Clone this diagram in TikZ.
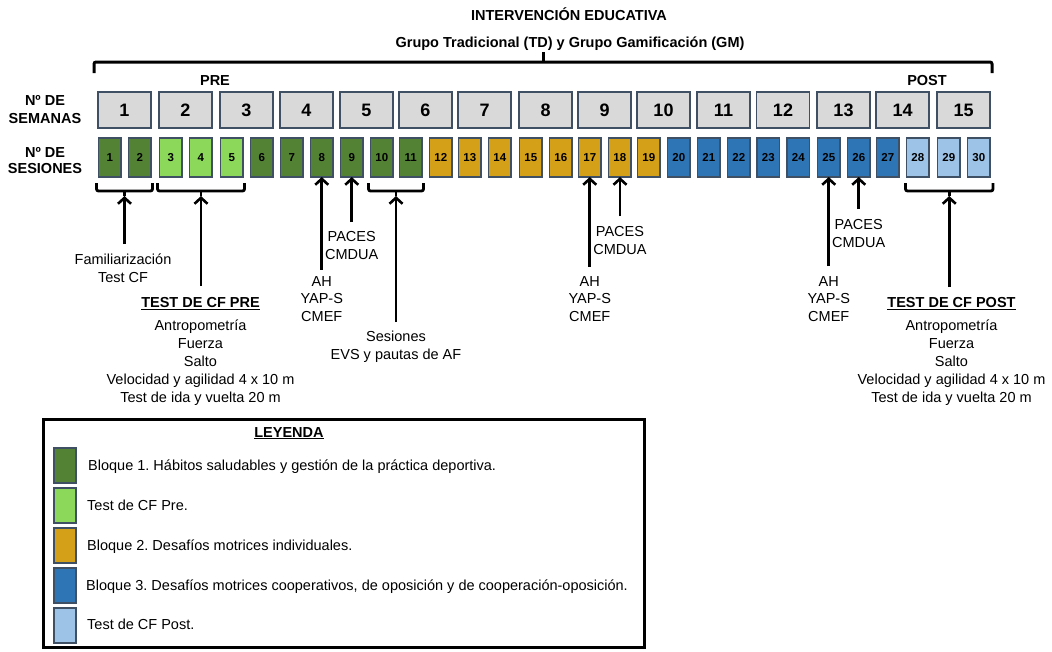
\documentclass[tikz,border=0pt]{standalone}
\usepackage{fontspec}
\setmainfont{Liberation Sans}
\usetikzlibrary{arrows.meta,calc}
\definecolor{bgreen}{RGB}{84,130,53}
\definecolor{lgreen}{RGB}{140,216,90}
\definecolor{gold}{RGB}{212,160,23}
\definecolor{bblue}{RGB}{46,117,182}
\definecolor{lblue}{RGB}{157,195,230}
\definecolor{wkgray}{RGB}{217,217,217}
\definecolor{edge}{RGB}{64,80,100}
\newcommand\myfs{\fontsize{14.5}{18}\selectfont}
\frenchspacing
\tikzset{
  week/.style={draw=edge, line width=1.3pt, fill=wkgray, minimum width=53pt, minimum height=36pt, inner sep=0pt, outer sep=0pt, font=\bfseries\fontsize{18}{20}\selectfont},
  sess/.style={draw=edge, line width=1.3pt, minimum width=22.5pt, minimum height=39pt, inner sep=0pt, outer sep=0pt, font=\bfseries\fontsize{11.5}{12}\selectfont},
  lab/.style={align=center, inner sep=0pt, font=\myfs, anchor=north},
  btitle/.style={inner sep=0pt, font=\bfseries\myfs, anchor=base},
  arr/.style={line width=2.6pt, -{Straight Barb[length=6pt,width=13pt]}},
  brk/.style={line width=2.8pt, rounded corners=2pt},
  brace/.style={line width=3pt, rounded corners=2pt},
  swatch/.style={draw=edge, line width=1.3pt, minimum width=22pt, minimum height=35pt, inner sep=0pt},
  legtext/.style={anchor=base west, inner sep=0pt, font=\myfs}
}
\begin{document}
\begin{tikzpicture}[x=1pt,y=-1pt]
\useasboundingbox (0,0) rectangle (1052,651);
\fill[white] (0,0) rectangle (1052,651);
% titles
\node[btitle] (tit) at (569,20.2) {INTERVENCIÓN EDUCATIVA};
\node[btitle] (sub) at (570,47.2) {Grupo Tradicional (TD) y Grupo Gamificación (GM)};
% brace
\draw[brace] (94,73) -- (94,62) -- (992,62) -- (992,73);
\draw[brace] (543.5,62) -- (543.5,52);
\node[btitle] (pre) at (215,85.2) {PRE};
\node[btitle] (post) at (927,85.2) {POST};
% left labels
\node[lab, font=\bfseries\fontsize{14.5}{18}\selectfont] (lsem) at (45,94.8) {Nº DE\\SEMANAS};
\node[lab, font=\bfseries\fontsize{14.5}{16}\selectfont] (lses) at (45,146.8) {Nº DE\\SESIONES};
% weeks
\foreach \L [count=\i] in {98,159,220,280,340,399,458,519,578,637,697,756.5,817,876,937} {
  \node[week] (w\i) at (\L+26.5,110) {\i};
}
% sessions
\foreach \k/\col in {1/bgreen,2/bgreen,3/lgreen,4/lgreen,5/lgreen,6/bgreen,7/bgreen,8/bgreen,9/bgreen,10/bgreen,11/bgreen,12/gold,13/gold,14/gold,15/gold,16/gold,17/gold,18/gold,19/gold,20/bblue,21/bblue,22/bblue,23/bblue,24/bblue,25/bblue,26/bblue,27/bblue,28/lblue,29/lblue,30/lblue} {
  \pgfmathtruncatemacro\wk{(\k+1)/2}
  \pgfmathtruncatemacro\isodd{mod(\k,2)}
  \ifnum\isodd=1 \def\sdx{11.75}\else\def\sdx{41.75}\fi
  \node[sess, fill=\col] (s\k) at ($(w\wk.west)+(\sdx,47.5)$) {\k};
}
% brackets
\draw[brk] ($(s1.south west)+(-2,6)$) -- ($(s1.south west)+(-2,14)$) -- ($(s2.south east)+(1.5,14)$) -- ($(s2.south east)+(1.5,6)$);
\draw[brk] ($(s1.south west)!0.5!(s2.south east)+(-0.25,14)$) -- ++(0,5) coordinate (b1);
\draw[brk] ($(s3.south west)+(-2,6)$) -- ($(s3.south west)+(-2,14)$) -- ($(s5.south east)+(1.5,14)$) -- ($(s5.south east)+(1.5,6)$);
\draw[brk] ($(s3.south west)!0.5!(s5.south east)+(-0.25,14)$) -- ++(0,5) coordinate (b2);
\draw[brk] ($(s10.south west)+(-2,6)$) -- ($(s10.south west)+(-2,14)$) -- ($(s11.south east)+(1.5,14)$) -- ($(s11.south east)+(1.5,6)$);
\draw[brk] ($(s10.south west)!0.5!(s11.south east)+(-0.25,14)$) -- ++(0,5) coordinate (b3);
\draw[brk] ($(s28.south west)+(-1,6)$) -- ($(s28.south west)+(-1,14)$) -- ($(s30.south east)+(3,14)$) -- ($(s30.south east)+(3,6)$);
\draw[brk] ($(s28.south west)!0.5!(s30.south east)+(1,14)$) -- ++(0,5) coordinate (b4);
% labels
\node[lab] (fam) at (123,254) {Familiarización\\Test CF};
\node[lab, font=\bfseries\myfs] (tpre) at (200.5,297) {\underline{TEST DE CF PRE}};
\node[lab] (tprel) at (200.5,320) {Antropometría\\Fuerza\\Salto\\Velocidad y agilidad 4 x 10 m\\Test de ida y vuelta 20 m};
\node[lab, font=\fontsize{14.5}{17.5}\selectfont] (ah1) at (321.75,276) {AH\\YAP-S\\CMEF};
\node[lab] (pac1) at (351.75,231) {PACES\\CMDUA};
\node[lab] (evs) at (396,331) {Sesiones\\EVS y pautas de AF};
\node[lab, font=\fontsize{14.5}{17.5}\selectfont] (ah2) at (589.75,276) {AH\\YAP-S\\CMEF};
\node[lab] (pac2) at (620,226) {PACES\\CMDUA};
\node[lab, font=\fontsize{14.5}{17.5}\selectfont] (ah3) at (828.75,276) {AH\\YAP-S\\CMEF};
\node[lab] (pac3) at (858.75,219) {PACES\\CMDUA};
\node[lab, font=\bfseries\myfs] (tpost) at (951.5,297) {\underline{TEST DE CF POST}};
\node[lab] (tpostl) at (951.5,320) {Antropometría\\Fuerza\\Salto\\Velocidad y agilidad 4 x 10 m\\Test de ida y vuelta 20 m};
% arrows
\draw[arr] ($(b1 |- fam.north)+(0,-10)$) -- (b1);
\draw[arr] ($(b2 |- tpre.north)+(0,-11)$) -- (b2);
\draw[arr] ($(b3 |- evs.north)+(0,-9)$) -- (b3);
\draw[arr] ($(b4 |- tpost.north)+(0,-10)$) -- (b4);
\draw[arr] ($(ah1.north)+(0,-6.5)$) -- (ah1.north |- s8.south);
\draw[arr] ($(pac1.north)+(0,-9)$) -- (pac1.north |- s9.south);
\draw[arr] ($(ah2.north)+(0,-9.5)$) -- (ah2.north |- s17.south);
\draw[arr] ($(pac2.north)+(0,-10)$) -- (pac2.north |- s18.south);
\draw[arr] ($(ah3.north)+(0,-10)$) -- (ah3.north |- s25.south);
\draw[arr] ($(pac3.north)+(0,-10)$) -- (pac3.north |- s26.south);
% legend
\node[draw, line width=2.5pt, minimum width=601pt, minimum height=228pt, anchor=north west, inner sep=0pt] (leg) at (42,418) {};
\node[btitle] (leyt) at (289,437.2) {\underline{LEYENDA}};
\node[swatch, fill=bgreen] (k1) at (65,465.5) {};
\node[swatch, fill=lgreen] (k2) at (65,505.5) {};
\node[swatch, fill=gold] (k3) at (65,545.5) {};
\node[swatch, fill=bblue] (k4) at (65,585.5) {};
\node[swatch, fill=lblue] (k5) at (65,625.5) {};
\node[legtext] (t1) at (88,470.2) {Bloque 1. Hábitos saludables y gestión de la práctica deportiva.};
\node[legtext] (t2) at (87,510.2) {Test de CF Pre.};
\node[legtext] (t3) at (87,550.2) {Bloque 2. Desafíos motrices individuales.};
\node[legtext] (t4) at (86,590.2) {Bloque 3. Desafíos motrices cooperativos, de oposición y de cooperación-oposición.};
\node[legtext] (t5) at (87,629.2) {Test de CF Post.};
\end{tikzpicture}
\end{document}
